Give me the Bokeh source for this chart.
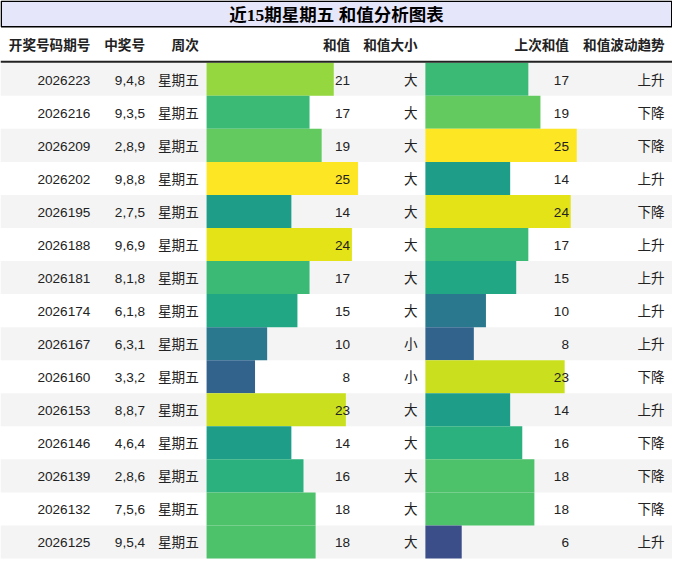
from bokeh.plotting import figure
from bokeh.models import Range1d, ColumnDataSource
from bokeh.transform import linear_cmap
from bokeh.palettes import Viridis256
from bokeh.core.properties import value
from bokeh.embed import file_html
from bokeh.resources import INLINE

# ---------------- data ----------------
title = "近15期星期五 和值分析图表"
headers = ["开奖号码期号", "中奖号", "周次", "和值", "和值大小", "上次和值", "和值波动趋势"]
issues = ["2026223", "2026216", "2026209", "2026202", "2026195", "2026188", "2026181", "2026174",
          "2026167", "2026160", "2026153", "2026146", "2026139", "2026132", "2026125"]
numbers = ["9,4,8", "9,3,5", "2,8,9", "9,8,8", "2,7,5", "9,6,9", "8,1,8", "6,1,8",
           "6,3,1", "3,3,2", "8,8,7", "4,6,4", "2,8,6", "7,5,6", "9,5,4"]
weekday = ["星期五"] * 15
sums = [21, 17, 19, 25, 14, 24, 17, 15, 10, 8, 23, 14, 16, 18, 18]
size_label = ["大", "大", "大", "大", "大", "大", "大", "大", "小", "小", "大", "大", "大", "大", "大"]
prev_sums = [17, 19, 25, 14, 24, 17, 15, 10, 8, 23, 14, 16, 18, 18, 6]
trend = ["上升", "下降", "下降", "上升", "下降", "上升", "上升", "上升", "上升", "下降",
         "上升", "下降", "下降", "下降", "上升"]

# ---------------- layout ----------------
W, H = 688, 575
col_edges = [0, 100, 156, 211, 366, 435, 590, 688]
pad = 8
title_bottom = 27
header_bottom = 63
row_top = 64
row_h = 34
n = len(issues)

BODY_FONT = value("Liberation Sans, Noto Sans CJK SC")
TITLE_FONT = value("Liberation Serif, Noto Sans CJK SC")
FS = "13.6px"
TXT = "#222222"

p = figure(width=672, height=559, x_range=Range1d(0, W), y_range=Range1d(H, 0),
           output_backend="svg", toolbar_location=None, min_border=0)
p.xaxis.visible = False
p.yaxis.visible = False
p.xgrid.visible = False
p.ygrid.visible = False
p.outline_line_color = None
p.background_fill_color = "white"
p.border_fill_color = "white"

ys = [row_top + row_h * i + row_h / 2 for i in range(n)]

# stripes
stripe_y = [ys[i] for i in range(n) if i % 2 == 0]
p.hbar(y=stripe_y, height=row_h, left=0, right=W, fill_color="#f4f4f4", line_color=None)

# bars
vmax = max(max(sums), max(prev_sums))
mapper_sum = linear_cmap("v", Viridis256, 0, vmax)
for ci, vals in ((3, sums), (5, prev_sums)):
    x0 = col_edges[ci]
    unit = (col_edges[ci + 1] - x0) / vmax
    src = ColumnDataSource(dict(y=ys, v=vals, r=[x0 + v * unit for v in vals]))
    p.hbar(y="y", height=row_h, left=x0, right="r", source=src,
           fill_color=linear_cmap("v", Viridis256, 0, vmax), line_color=None)

# title box
p.quad(left=0.75, right=W - 0.75, top=0.75, bottom=title_bottom, fill_color="#e6e6fa",
       line_color="black", line_width=1.5)
p.text(x=[W / 2], y=[title_bottom / 2 + 1], text=[title], text_font=TITLE_FONT,
       text_font_size="17.5px", text_font_style="bold", text_align="center",
       text_baseline="middle", text_color="black")

# header
hx = [col_edges[i + 1] - pad for i in range(len(headers))]
p.text(x=hx, y=[(title_bottom + header_bottom) / 2 + 1] * len(headers), text=headers,
       text_font=BODY_FONT, text_font_size=FS, text_font_style="bold",
       text_align="right", text_baseline="middle", text_color=TXT)
p.segment(x0=[0], x1=[W], y0=[header_bottom], y1=[header_bottom], line_color="#222222", line_width=2)

# body texts
cols = [issues, numbers, weekday, [str(v) for v in sums], size_label,
        [str(v) for v in prev_sums], trend]
for ci, vals in enumerate(cols):
    p.text(x=[col_edges[ci + 1] - pad] * n, y=[y + 1 for y in ys], text=vals,
           text_font=BODY_FONT, text_font_size=FS, text_align="right",
           text_baseline="middle", text_color=TXT)

open("out.html", "w").write(file_html(p, INLINE))
